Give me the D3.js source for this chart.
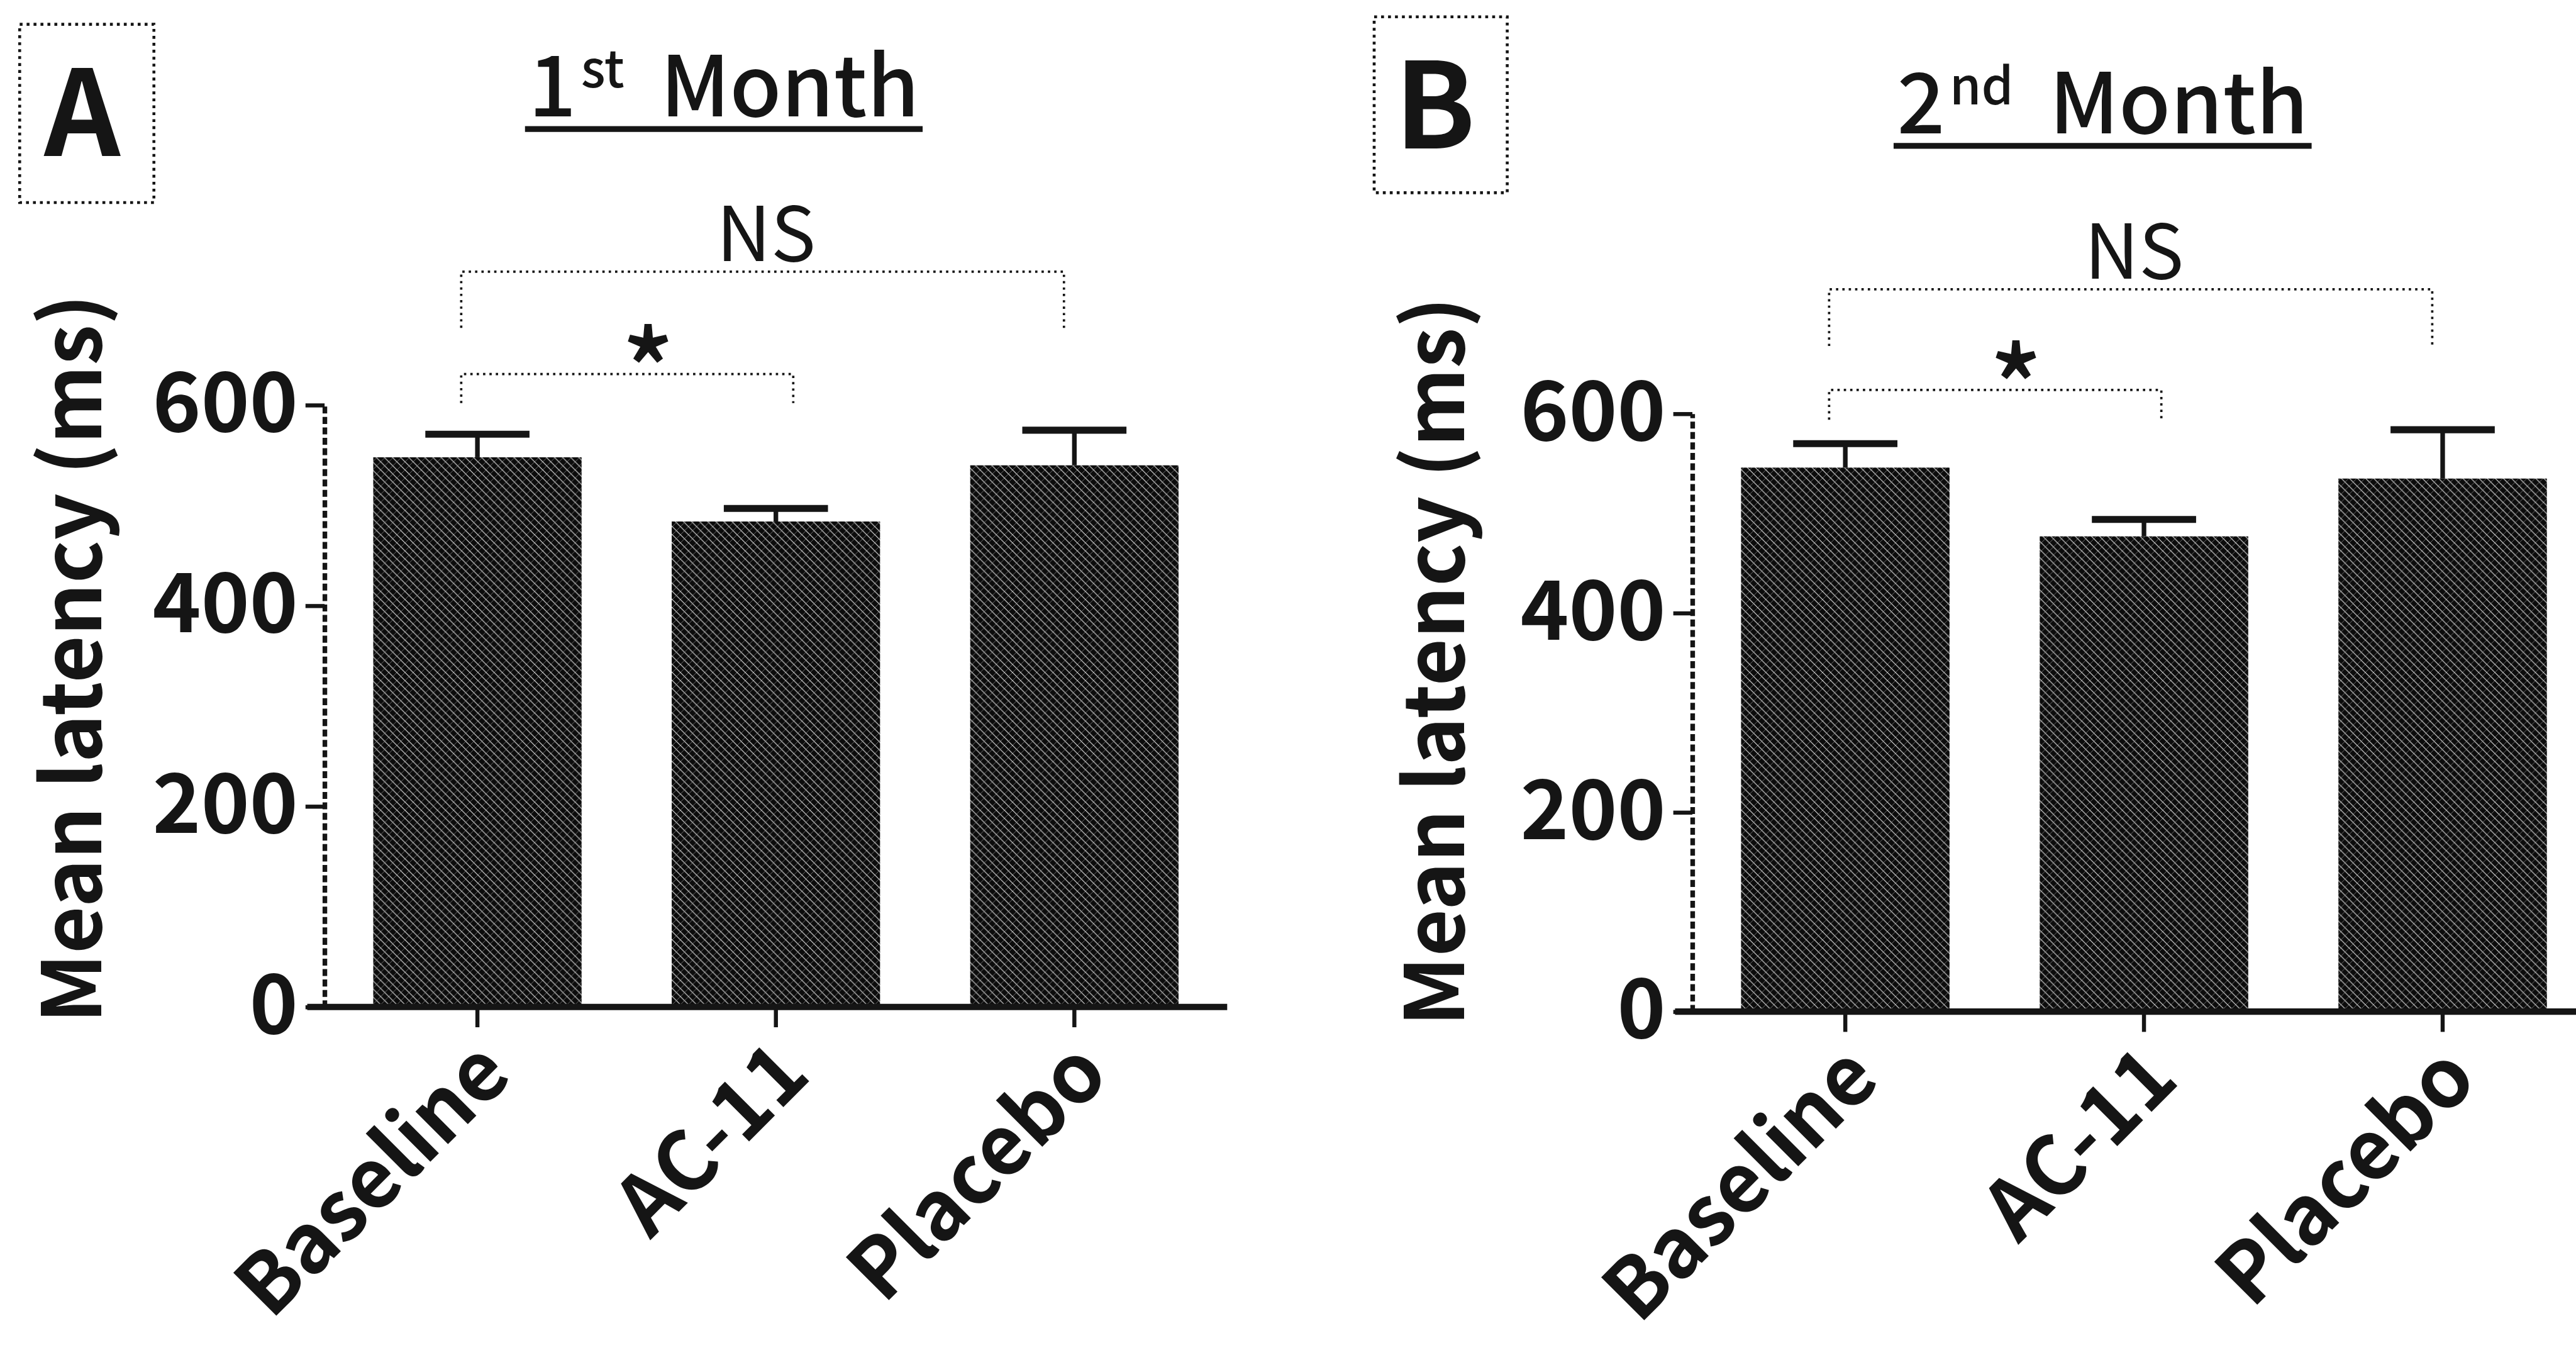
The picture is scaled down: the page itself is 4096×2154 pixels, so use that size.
<!DOCTYPE html>
<html><head><meta charset="utf-8">
<script src="https://cdn.jsdelivr.net/npm/d3@7"></script>
<style>
html,body{margin:0;padding:0;background:#fff;}
svg{display:block;background:#fff;}
</style></head><body>
<svg id="chart" width="4096" height="2154"></svg>
<script>
// ---------------- data ----------------
const categories = ["Baseline", "AC-11", "Placebo"];
const month1Means = [548, 484, 540];
const month1Errors = [23, 13, 35];
const month2Means = [546, 477, 535];
const month2Errors = [24, 17, 49];
const yTicks = [0, 200, 400, 600];
const panelLetters = ["A", "B"];
const titleOrdinals = ["1", "2"];
const titleSuffixes = ["st", "nd"];
const titleWord = "Month";
const yAxisLabel = "Mean latency (ms)";
const month1Brackets = [
  {from: "Baseline", to: "AC-11", top: 631, leg: 602, label: "*"},
  {from: "Baseline", to: "Placebo", top: 733, leg: 677, label: "NS"}
];
const month2Brackets = [
  {from: "Baseline", to: "AC-11", top: 624, leg: 594, label: "*"},
  {from: "Baseline", to: "Placebo", top: 725, leg: 668, label: "NS"}
];

// ---------------- layout (reference pixels, scaled by 0.92) ----------------
const S = 0.92;
const FONT = "'Noto Sans CJK KR','Noto Sans','Open Sans',sans-serif";
const INK = "#151515";

const panels = [
  {letter: panelLetters[0], ord: titleOrdinals[0], suf: titleSuffixes[0], means: month1Means, errs: month1Errors, brackets: month1Brackets,
   box: [34, 42, 232, 308], letterX: 142, letterY: 270,
   titleX: 1251, titleY: 201, underY: 223,
   axisX: 561, xEnd: 2121, y0: 1740, y600: 700,
   ylabX: 175, ylabY: 1138},
  {letter: panelLetters[1], ord: titleOrdinals[1], suf: titleSuffixes[1], means: month2Means, errs: month2Errors, brackets: month2Brackets,
   box: [2375, 29, 230, 304], letterX: 2480, letterY: 257,
   titleX: 3634, titleY: 230, underY: 252,
   axisX: 2925, xEnd: 4486, y0: 1748, y600: 715,
   ylabX: 2530, ylabY: 1143}
];

const svg = d3.select("#chart");
const defs = svg.append("defs");
const pat = defs.append("pattern").attr("id", "hatch")
  .attr("patternUnits", "userSpaceOnUse").attr("width", 14).attr("height", 14);
pat.append("rect").attr("width", 14).attr("height", 14).attr("fill", "#0c0c0c");
pat.append("path").attr("d", "M-4,-4L18,18M-4,10L4,18M10,-4L18,4")
  .attr("stroke", "#ddd").attr("stroke-width", 1.3);
pat.append("path").attr("d", "M-4,18L18,-4M-4,4L4,-4M10,18L18,10")
  .attr("stroke", "#bbb").attr("stroke-width", 0.6);

const root = svg.append("g").attr("transform", `scale(${S})`);

panels.forEach(p => {
  const g = root.append("g");
  const y = d3.scaleLinear().domain([0, 600]).range([p.y0, p.y600]);
  const x = d3.scaleBand().domain(categories).range([p.axisX, p.xEnd])
    .paddingInner(0.302).paddingOuter(0.163);
  const rows = categories.map((c, i) => ({cat: c, mean: p.means[i], err: p.errs[i]}));

  // panel letter box
  g.append("rect").attr("x", p.box[0]).attr("y", p.box[1]).attr("width", p.box[2]).attr("height", p.box[3])
    .attr("fill", "none").attr("stroke", INK).attr("stroke-width", 5).attr("stroke-dasharray", "5,7");
  g.append("text").attr("x", p.letterX).attr("y", p.letterY).attr("text-anchor", "middle")
    .attr("font-family", FONT).attr("font-size", 205).attr("font-weight", 700).attr("fill", INK)
    .text(p.letter);

  // title with superscript
  const t = g.append("text").attr("x", p.titleX).attr("y", p.titleY).attr("text-anchor", "middle")
    .attr("font-family", FONT).attr("font-size", 145).attr("font-weight", 500).attr("fill", INK);
  t.append("tspan").text(p.ord);
  t.append("tspan").attr("font-size", 88).attr("dx", 8).attr("dy", -50).text(p.suf);
  t.append("tspan").attr("dx", 62).attr("dy", 50).text(titleWord);
  const bb = t.node().getBBox();
  g.append("line").attr("x1", bb.x - 6).attr("x2", bb.x + bb.width + 6)
    .attr("y1", p.underY).attr("y2", p.underY).attr("stroke", INK).attr("stroke-width", 10);

  // bars
  g.selectAll("rect.bar").data(rows).join("rect").attr("class", "bar")
    .attr("x", d => x(d.cat)).attr("width", x.bandwidth())
    .attr("y", d => y(d.mean)).attr("height", d => y(0) - y(d.mean))
    .attr("fill", "url(#hatch)");

  // error bars (upper only)
  const eb = g.selectAll("g.err").data(rows).join("g").attr("class", "err");
  eb.append("line")
    .attr("x1", d => x(d.cat) + x.bandwidth() / 2).attr("x2", d => x(d.cat) + x.bandwidth() / 2)
    .attr("y1", d => y(d.mean)).attr("y2", d => y(d.mean + d.err))
    .attr("stroke", INK).attr("stroke-width", 8);
  eb.append("line")
    .attr("x1", d => x(d.cat) + x.bandwidth() / 4).attr("x2", d => x(d.cat) + x.bandwidth() * 3 / 4)
    .attr("y1", d => y(d.mean + d.err)).attr("y2", d => y(d.mean + d.err))
    .attr("stroke", INK).attr("stroke-width", 12);

  // y axis
  const ya = g.append("g").attr("transform", `translate(${p.axisX},0)`)
    .call(d3.axisLeft(y).tickValues(yTicks).tickSize(33).tickSizeOuter(0).tickPadding(13));
  ya.select(".domain").attr("stroke", INK).attr("stroke-width", 8).attr("stroke-dasharray", "12,6");
  ya.selectAll(".tick line").attr("stroke", INK).attr("stroke-width", 7);
  ya.selectAll(".tick text").attr("font-family", FONT).attr("font-size", 142)
    .attr("font-weight", 700).attr("fill", INK);

  // x axis
  const xa = g.append("g").attr("transform", `translate(0,${y(0)})`)
    .call(d3.axisBottom(x).tickSize(35).tickSizeOuter(0));
  xa.select(".domain").remove();
  xa.selectAll(".tick line").attr("stroke", INK).attr("stroke-width", 7);
  xa.selectAll(".tick text").attr("x", 0).attr("y", 0).attr("dy", 0)
    .attr("text-anchor", "end").attr("transform", "translate(64,122) rotate(-45)")
    .attr("font-family", FONT).attr("font-size", 142).attr("font-weight", 700).attr("fill", INK);
  g.append("line").attr("x1", p.axisX - 30).attr("x2", p.xEnd)
    .attr("y1", y(0)).attr("y2", y(0)).attr("stroke", INK).attr("stroke-width", 11);

  // y label
  g.append("text").attr("transform", `translate(${p.ylabX},${p.ylabY}) rotate(-90)`)
    .attr("text-anchor", "middle").attr("font-family", FONT).attr("font-size", 141)
    .attr("font-weight", 700).attr("fill", INK).text(yAxisLabel);

  // significance brackets
  const bx = d => {
    const left = x(d.from) + x.bandwidth() / 2 - 28;
    const right = x(d.to) + x.bandwidth() / 2 + (d.to === "Placebo" ? -18 : 30);
    return [left, right];
  };
  g.selectAll("path.br").data(p.brackets).join("path").attr("class", "br")
    .attr("d", d => { const [l, r] = bx(d); return `M${l},${y(d.leg)}V${y(d.top)}H${r}V${y(d.leg)}`; })
    .attr("fill", "none").attr("stroke", INK).attr("stroke-width", 4).attr("stroke-dasharray", "4,7");
  g.selectAll("text.br").data(p.brackets).join("text").attr("class", "br")
    .attr("x", d => { const [l, r] = bx(d); return (l + r) / 2 + (d.label === "*" ? 36 : 6); })
    .attr("y", d => d.label === "*" ? y(d.top) + 66 : y(d.top) - 18)
    .attr("text-anchor", "middle").attr("font-family", FONT)
    .attr("font-size", d => d.label === "*" ? 190 : 130)
    .attr("font-weight", d => d.label === "*" ? 500 : 400).attr("fill", INK).text(d => d.label);
});
</script>
</body></html>
